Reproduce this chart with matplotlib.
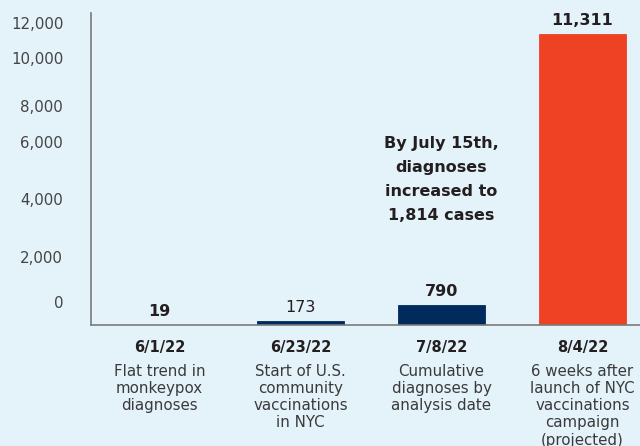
"""
Monkeypox diagnoses in NYC - bar chart with annotation
"""

import matplotlib
matplotlib.use("Agg")
import matplotlib.pyplot as plt

# data
dates = ['6/1/22', '6/23/22', '7/8/22', '8/4/22']
descriptions = [
    'Flat trend in\nmonkeypox\ndiagnoses',
    'Start of U.S.\ncommunity\nvaccinations\nin NYC',
    'Cumulative\ndiagnoses by\nanalysis date',
    '6 weeks after\nlaunch of NYC\nvaccinations\ncampaign\n(projected)',
]
cases = [19, 173, 790, 11311]
value_labels = ['19', '173', '790', '11,311']
# tick labels sit where the original graphic put them (not evenly spaced)
ytick_labels = ['0', '2,000', '4,000', '6,000', '8,000', '10,000', '12,000']
ytick_pos = [906, 2643, 4897, 7124, 8512, 10377, 11750]
note = 'By July 15th,\ndiagnoses\nincreased to\n1,814 cases'

bg = '#E4F2FA'
navy = '#002B5C'
red = '#EF4123'
ink = '#231F20'
colors = [navy, navy, navy, red]

plt.rcParams['font.family'] = ['DejaVu Sans']

fig = plt.figure(figsize=(6.4, 4.46), dpi=100, facecolor=bg)
ax = fig.add_axes([0.1422, 0.2713, 0.8578, 0.6996], facecolor=bg)

x = list(range(len(cases)))
ax.bar(x, cases, width=0.617, color=colors, edgecolor=colors, linewidth=0.6)

ax.set_xlim(-0.486, 3.408)
ax.set_ylim(0, 12130)

for s in ['top', 'right']:
    ax.spines[s].set_visible(False)
for s in ['left', 'bottom']:
    ax.spines[s].set_color('#7a7a7a')
    ax.spines[s].set_linewidth(1.2)

ax.set_xticks([])
ax.set_yticks(ytick_pos)
ax.set_yticklabels(ytick_labels, fontsize=10.8, color='#444444')
ax.tick_params(axis='y', length=0, pad=20)

# value labels above bars
weights = ['bold', 'normal', 'bold', 'bold']
for xi, v, lab, w in zip(x, cases, value_labels, weights):
    ax.annotate(lab, xy=(xi, v), xytext=(0, 4), textcoords='offset points',
                ha='center', va='bottom', fontsize=11.5, fontweight=w, color=ink)

# category labels under the axis
for xi, d, desc in zip(x, dates, descriptions):
    ax.annotate(d, xy=(xi, 0), xycoords=('data', 'axes fraction'),
                xytext=(0, -16), textcoords='offset points',
                ha='center', va='center', fontsize=10.5, fontweight='bold',
                color=ink)
    ax.annotate(desc, xy=(xi, 0), xycoords=('data', 'axes fraction'),
                xytext=(0, -28), textcoords='offset points',
                ha='center', va='top', fontsize=10.8, color='#3a3a3a',
                linespacing=1.18)

# annotation
ax.text(2, 5674, note, ha='center', va='center', fontsize=11.5,
        fontweight='bold', color=ink, linespacing=1.75)

fig.savefig('out.png', dpi=100, facecolor=bg)
